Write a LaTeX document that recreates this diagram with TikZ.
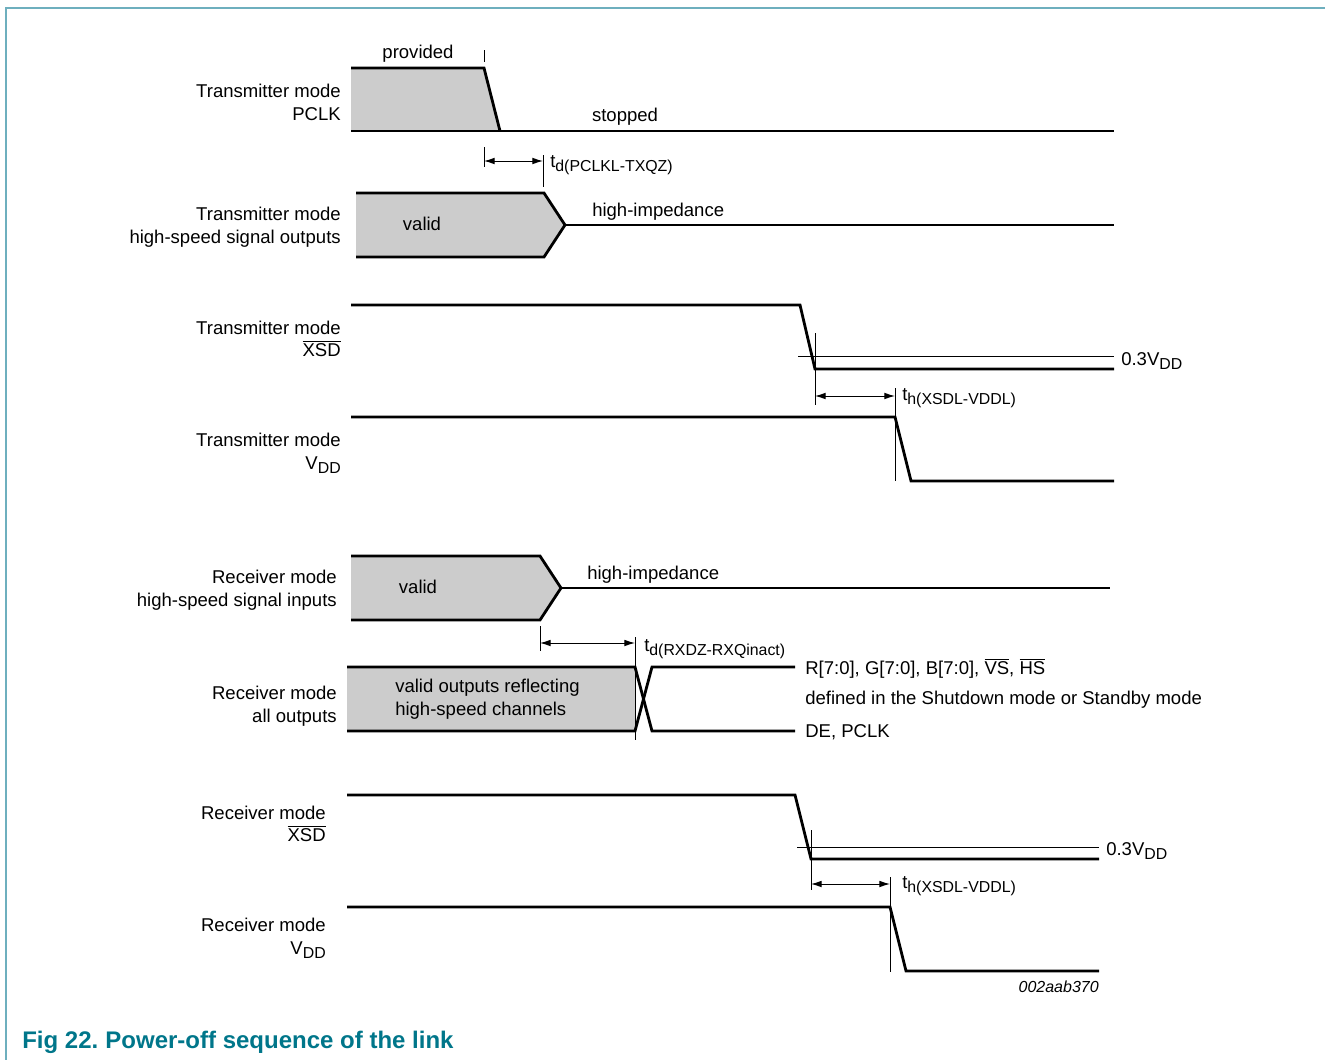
\documentclass[tikz,border=0pt]{standalone}
\usepackage{fontspec}
\setmainfont{Liberation Sans}
\usetikzlibrary{arrows.meta}

\definecolor{figteal}{RGB}{0,118,138}
\definecolor{frameteal}{RGB}{110,175,190}
\definecolor{siggray}{RGB}{204,204,204}

% lowered, smaller subscript as used in the timing labels
\newcommand{\lowsub}[1]{\raisebox{-3.2pt}{\fontsize{11.9}{13}\selectfont #1}}

\tikzset{
    sig/.style={line width=2.1pt, line join=miter},
    guide/.style={line width=0.7pt},
    dim/.style={guide, {Latex[length=8pt,width=5pt]}-{Latex[length=8pt,width=5pt]}},
    lbl/.style={anchor=base east, inner sep=0pt},
    txt/.style={anchor=base west, inner sep=0pt},
    mid/.style={anchor=base, inner sep=0pt}
}

\begin{document}
\begin{tikzpicture}[x=0.75pt, y=-0.75pt, font=\fontsize{13.9}{16.7}\selectfont]
\useasboundingbox (0,0) rectangle (1325,1060);

% Frame
\draw[frameteal, line width=1.1pt] (6,1060) -- (6,8) -- (1325,8);

% Signal names on the left
\foreach \n/\x/\ya/\yb/\la/\lb in {
    txpclk/341/97/120/Transmitter mode/PCLK,
    txhs/341/220/243/Transmitter mode/high-speed signal outputs,
    txxsd/341/334/356/Transmitter mode/$\overline{\mbox{XSD}}$,
    txvdd/341/446/469/Transmitter mode/V\lowsub{DD},
    rxhs/337/583/606/Receiver mode/high-speed signal inputs,
    rxout/337/699/722/Receiver mode/all outputs,
    rxxsd/326/819/841/Receiver mode/$\overline{\mbox{XSD}}$,
    rxvdd/326/931/954/Receiver mode/V\lowsub{DD}}
{
    \node[lbl] (\n-a) at (\x,\ya) {\la};
    \node[lbl] (\n-b) at (\x,\yb) {\lb};
}

% Transmitter mode PCLK
\fill[siggray] (351,68) -- (484,68) -- (500,131) -- (351,131) -- cycle;
\draw[sig] (351,68) -- (484,68) -- (500,131);
\draw[sig] (351,131) -- (1114,131);
\node[mid] (provided) at (418,58) {provided};
\node[mid] (stopped) at (625,121) {stopped};
\draw[guide] (484,50) -- (484,62);
\draw[guide] (484,147) -- (484,167);
\draw[guide] (543,155) -- (543,187);
\coordinate (pclkA) at (484,161);
\coordinate (pclkB) at (543,161);
\draw[dim] (pclkA) -- (pclkB);
\node[txt] (tpclk) at (550,167) {t\lowsub{d(PCLKL-TXQZ)}};

% Transmitter mode high-speed signal outputs
\fill[siggray] (356,193) -- (544,193) -- (565,225) -- (544,257) -- (356,257) -- cycle;
\draw[sig] (356,193) -- (544,193) -- (565,225) -- (544,257) -- (356,257);
\draw[sig] (565,225) -- (1114,225);
\node[mid] (txvalid) at (422,230) {valid};
\node[txt] (txhiz) at (592,216) {high-impedance};

% Transmitter mode XSD
\draw[sig] (351,305) -- (800,305) -- (815,369) -- (1114,369);
\draw[guide] (798,356) -- (1114,356);
\node[txt] (txthr) at (1121,365) {0.3V\lowsub{DD}};
\draw[guide] (815,333) -- (815,405);
\coordinate (txhA) at (815,396);
\coordinate (txhB) at (895,396);
\draw[dim] (txhA) -- (txhB);
\node[txt] (txth) at (902,400) {t\lowsub{h(XSDL-VDDL)}};

% Transmitter mode VDD
\draw[sig] (351,417) -- (895,417) -- (911,481) -- (1114,481);
\draw[guide] (895,388) -- (895,481);

% Receiver mode high-speed signal inputs
\fill[siggray] (351,556) -- (540,556) -- (561,588) -- (540,620) -- (351,620) -- cycle;
\draw[sig] (351,556) -- (540,556) -- (561,588) -- (540,620) -- (351,620);
\draw[sig] (561,588) -- (1110,588);
\node[mid] (rxvalid) at (418,593) {valid};
\node[txt] (rxhiz) at (587,579) {high-impedance};
\draw[guide] (540,626) -- (540,651);
\draw[guide] (635,637) -- (635,740);
\coordinate (rxdA) at (540,643);
\coordinate (rxdB) at (635,643);
\draw[dim] (rxdA) -- (rxdB);
\node[txt] (trxd) at (644,651) {t\lowsub{d(RXDZ-RXQinact)}};

% Receiver mode all outputs
\fill[siggray] (347,667) rectangle (635,731);
\draw[sig] (347,667) -- (635,667) -- (652,731) -- (795,731);
\draw[sig] (347,731) -- (635,731) -- (652,667) -- (795,667);
\node[txt] (rxouta) at (395,692) {valid outputs reflecting};
\node[txt] (rxoutb) at (395,715) {high-speed channels};
\node[txt] (rgb) at (805,674) {R[7:0], G[7:0], B[7:0], $\overline{\mbox{VS}}$, $\overline{\mbox{HS}}$};
\node[txt] (defined) at (805,704) {defined in the Shutdown mode or Standby mode};
\node[txt] (depclk) at (805,737) {DE, PCLK};

% Receiver mode XSD
\draw[sig] (347,795) -- (795,795) -- (811,859) -- (1099,859);
\draw[guide] (797,847) -- (1099,847);
\node[txt] (rxthr) at (1106,855) {0.3V\lowsub{DD}};
\draw[guide] (811,830) -- (811,890);
\coordinate (rxhA) at (811,884);
\coordinate (rxhB) at (890,884);
\draw[dim] (rxhA) -- (rxhB);
\node[txt] (rxth) at (902,888) {t\lowsub{h(XSDL-VDDL)}};

% Receiver mode VDD
\draw[sig] (347,907) -- (890,907) -- (906,971) -- (1099,971);
\draw[guide] (890,877) -- (890,972);

\node[anchor=base east, inner sep=0pt, font=\fontsize{12}{14}\selectfont\itshape] (docid) at (1099,992) {002aab370};

% Caption
\node[txt, text=figteal, font=\fontsize{18}{20}\selectfont\bfseries] (caption) at (22,1048) {Fig 22.\hspace{0.3em}Power-off sequence of the link};
\end{tikzpicture}
\end{document}
